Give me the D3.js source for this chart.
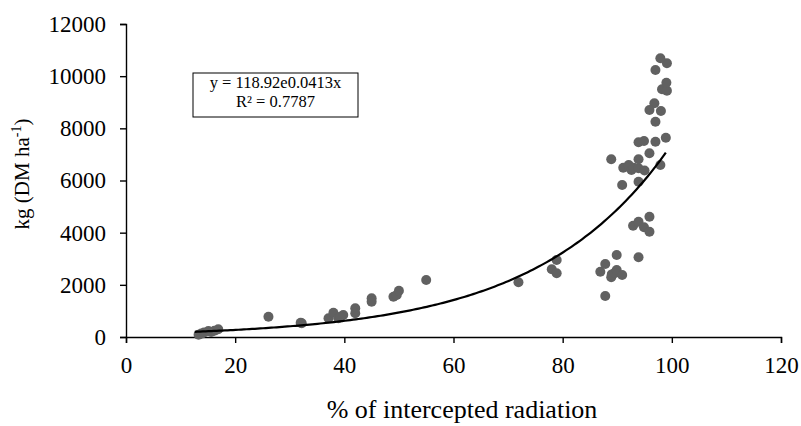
<!DOCTYPE html>
<html>
<head>
<meta charset="utf-8">
<script src="https://cdn.jsdelivr.net/npm/d3@7"></script>
<style>
  body { margin: 0; background: #fff; }
  svg text { font-family: "Times New Roman", "Liberation Serif", "DejaVu Serif", Times, serif !important; fill: #000; }
</style>
</head>
<body>
<svg id="chart" width="801" height="426"></svg>
<script>
// observed points: % intercepted radiation vs kg DM/ha
const xVals = [13.3, 13.8, 14.3, 15.1, 15.6, 16.2, 16.9, 26.1, 32.0, 32.2,
  37.1, 38.0, 38.9, 39.8, 39.3, 42.0, 42.0, 45.0, 45.0, 49.0, 49.6, 50.0, 55.0,
  71.9, 78.0, 78.9, 78.9,
  86.9, 87.8, 87.8, 88.9, 89.0, 89.5, 89.9, 89.9, 90.9, 92.9, 93.9, 93.9, 94.9, 95.9, 95.9,
  88.9, 90.9, 91.1, 92.1, 92.6, 93.0, 93.9, 93.9, 93.9, 93.9, 94.9, 95.0, 95.9,
  97.0, 97.9, 98.9, 96.8, 95.9, 98.0, 97.0, 98.2, 99.1, 99.0, 97.0, 99.1, 97.9]
const yVals = [90, 130, 170, 230, 190, 240, 300, 778, 548, 525,
  717, 932, 717, 843, 780, 1100, 909, 1484, 1353, 1545, 1610, 1775, 2185,
  2097, 2596, 2952, 2442,
  2504, 2799, 1572, 2289, 2400, 2450, 3144, 2569, 2377, 4267, 4420, 3056, 4206, 4612, 4037,
  6813, 5828, 6491, 6594, 6400, 6491, 6468, 6813, 5954, 7465, 7515, 6380, 7043,
  7488, 6594, 7641, 8960, 8703, 8665, 8254, 9497, 9443, 9750, 10236, 10493, 10685]

// exponential fit shown in the box
const fitA = 118.92
const fitB = 0.0413
const fitRange = [12.6, 98.9]
const eqLines = ['y = 118.92e0.0413x', 'R² = 0.7787']

const xTicks = [0, 20, 40, 60, 80, 100, 120]
const yTicks = [0, 2000, 4000, 6000, 8000, 10000, 12000]

const svg = d3.select('#chart')
const margin = { top: 24, right: 20, bottom: 89, left: 126 }
const width = 801 - margin.left - margin.right
const height = 426 - margin.top - margin.bottom

const x = d3.scaleLinear().domain([0, 120]).range([margin.left, margin.left + width])
const y = d3.scaleLinear().domain([0, 12000]).range([margin.top + height, margin.top])

const xAxis = svg.append('g')
  .attr('transform', `translate(0, ${margin.top + height})`)
  .call(d3.axisBottom(x).tickValues(xTicks).tickSize(6).tickPadding(10))
const yAxis = svg.append('g')
  .attr('transform', `translate(${margin.left}, 0)`)
  .call(d3.axisLeft(y).tickValues(yTicks).tickSize(6).tickPadding(14).tickFormat(d3.format('d')))

for (const ax of [xAxis, yAxis]) {
  ax.attr('font-family', null)
  ax.select('.domain').attr('stroke', '#000').attr('stroke-width', 1.4)
  ax.selectAll('.tick line').attr('stroke', '#000').attr('stroke-width', 1.4)
  ax.selectAll('.tick text').style('font-size', '23px')
}
xAxis.selectAll('.tick text').attr('dy', '0.85em')

// points
const pts = xVals.map((v, i) => ({ x: v, y: yVals[i] }))
svg.append('g')
  .selectAll('circle')
  .data(pts)
  .enter()
  .append('circle')
  .attr('cx', d => x(d.x))
  .attr('cy', d => y(d.y))
  .attr('r', 5)
  .attr('fill', '#616161')

// trend line
const fitX = d3.range(fitRange[0], fitRange[1], 0.5).concat([fitRange[1]])
const fitPts = fitX.map(v => [v, fitA * Math.exp(fitB * v)])
svg.append('path')
  .datum(fitPts)
  .attr('fill', 'none')
  .attr('stroke', '#000')
  .attr('stroke-width', 2.2)
  .attr('d', d3.line().x(d => x(d[0])).y(d => y(d[1])))

// equation box
svg.append('rect')
  .attr('x', 193).attr('y', 73).attr('width', 165).attr('height', 44)
  .attr('fill', '#fff').attr('stroke', '#000').attr('stroke-width', 1)
svg.append('g')
  .selectAll('text')
  .data(eqLines)
  .enter()
  .append('text')
  .attr('x', 275.5)
  .attr('y', (d, i) => 88 + i * 19)
  .attr('text-anchor', 'middle')
  .style('font-size', '16.5px')
  .text(d => d)

// axis titles
svg.append('text')
  .attr('x', 462)
  .attr('y', 418)
  .attr('text-anchor', 'middle')
  .style('font-size', '26px')
  .text('% of intercepted radiation')

const yTitle = svg.append('text')
  .attr('transform', `translate(29, 174) rotate(-90)`)
  .attr('text-anchor', 'middle')
  .style('font-size', '21px')
yTitle.append('tspan').text('kg (DM ha')
yTitle.append('tspan').attr('dy', -8).style('font-size', '14px').text('-1')
yTitle.append('tspan').attr('dy', 8).text(')')
</script>
</body>
</html>
